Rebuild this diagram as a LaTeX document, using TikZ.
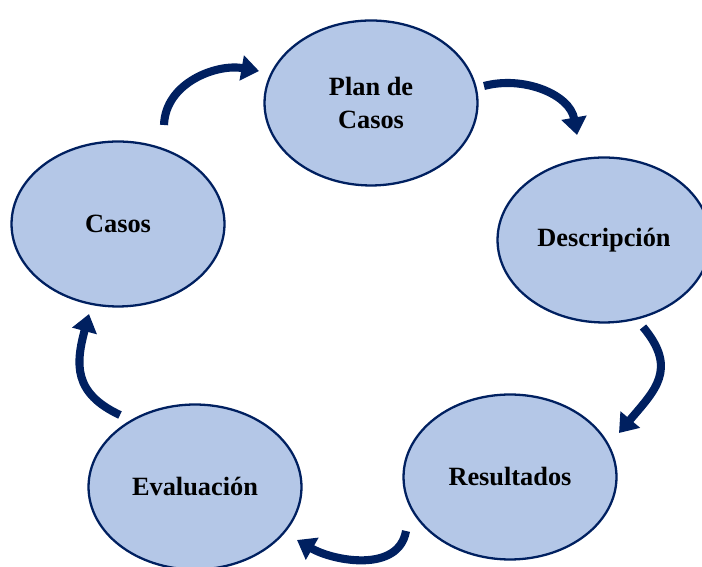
\documentclass[tikz,border=0pt]{standalone}
\usepackage{fontspec}
\setmainfont{Liberation Serif}
\usetikzlibrary{shapes.geometric,arrows.meta}
\definecolor{navy}{RGB}{0,32,96}
\definecolor{phasefill}{RGB}{180,199,231}
\tikzset{
  phase/.style={ellipse,draw=navy,line width=1.3pt,fill=phasefill,
    minimum width=4.26cm,minimum height=3.3cm,align=center,
    font=\fontsize{15}{19}\selectfont\bfseries},
  cyclearrow/.style={draw=navy,line width=4.6pt,
    -{Triangle[width=14pt,length=10pt]}}
}
\begin{document}
\begin{tikzpicture}[x=0.02cm,y=0.02cm]
  \useasboundingbox (0,0) rectangle (702,567);
  \draw
    (371,464) node[phase] (plan){Plan de\\Casos}
    (604,327) node[phase] (desc){Descripci\'on}
    (510,90) node[phase] (res){Resultados}
    (195,80) node[phase] (eval){Evaluaci\'on}
    (118,343) node[phase] (casos){Casos};
  \coordinate (a1) at (164,442);
  \coordinate (b1) at (259,496);
  \coordinate (a2) at (484,481);
  \coordinate (b2) at (577,432);
  \coordinate (a3) at (643,240);
  \coordinate (b3) at (619,134);
  \coordinate (a4) at (406,36);
  \coordinate (b4) at (297,27);
  \coordinate (a5) at (120,152);
  \coordinate (b5) at (89,253);
  \begin{scope}[cyclearrow]
    \draw (a1) to[out=88,in=170] (b1);
    \draw (a2) to[out=15,in=100] (b2);
    \draw (a3) to[out=-50,in=50,looseness=1.3] (b3);
    \draw (a4) to[out=-100,in=-30] (b4);
    \draw (a5) to[out=155,in=-105,looseness=1.25] (b5);
  \end{scope}
\end{tikzpicture}
\end{document}
